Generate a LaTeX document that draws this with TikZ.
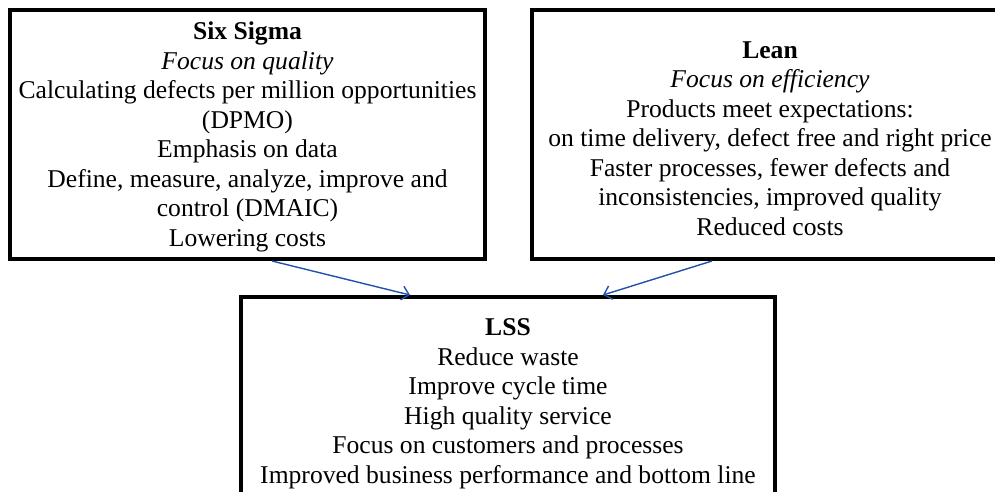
\documentclass[tikz,border=0pt]{standalone}
\usepackage{fontspec}
\setmainfont{Liberation Serif}
\usetikzlibrary{arrows.meta}
\definecolor{linkblue}{RGB}{35,80,170}
\tikzset{
  box/.style={draw=black, line width=4pt, align=center, inner sep=0pt,
    font=\fontsize{25.6}{29.5}\selectfont},
  link/.style={draw=linkblue, line width=1.4pt, -{Straight Barb[length=7pt,width=14pt]}}
}
\begin{document}
\begin{tikzpicture}[x=1pt,y=-1pt]
    \useasboundingbox (0,0) rectangle (995,492);
    \node[box, minimum width=475pt, minimum height=249pt] (six) at (247.5,134.5)
      {\rule{0pt}{23pt}\textbf{Six Sigma}\\ \textit{Focus on quality}\\ Calculating defects per million opportunities\\ (DPMO)\\ Emphasis on data\\ Define, measure, analyze, improve and\\ control (DMAIC)\\ Lowering costs};
    \node[box, minimum width=476pt, minimum height=249pt] (lean) at (770,134.5)
      {\rule{0pt}{25pt}\textbf{Lean}\\ \textit{Focus on efficiency}\\ Products meet expectations:\\ on time delivery, defect free and right price\\ Faster processes, fewer defects and\\ inconsistencies, improved quality\\ Reduced costs};
    \node[box, minimum width=534pt, minimum height=207pt] (lss) at (508,400.5)
      {\rule{0pt}{23pt}\textbf{LSS}\\ Reduce waste\\ Improve cycle time\\ High quality service\\ Focus on customers and processes\\ Improved business performance and bottom line};

    \draw[link] ([xshift=24.5pt]six.south) -- ([xshift=-98pt]lss.north);
    \draw[link] ([xshift=-58pt]lean.south) -- ([xshift=95pt]lss.north);
\end{tikzpicture}
\end{document}
